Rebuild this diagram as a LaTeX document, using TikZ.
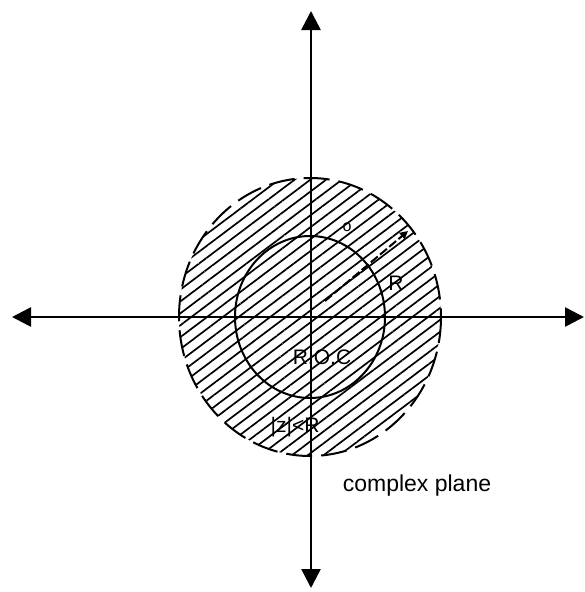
\documentclass[tikz,border=0pt]{standalone}
\usepackage{fontspec}
\setmainfont{Liberation Sans}
\usetikzlibrary{arrows.meta,patterns.meta}
\begin{document}
\begin{tikzpicture}[x=1pt,y=-1pt,
  axis/.style={line width=2.6pt,-{Triangle[length=19pt,width=19pt]}},
  hatch/.style={pattern={Lines[angle=37,distance=9.5pt,line width=1.7pt]}},
  lbl/.style={inner sep=0pt,font=\fontsize{21}{21}\selectfont}]
\useasboundingbox (0,0) rectangle (585,592);
\coordinate (O) at (310,317);
% hatched region
\fill[hatch] (O) ellipse[x radius=131,y radius=139];
\draw[line width=2pt,dash pattern=on 26pt off 9pt] (O) ellipse[x radius=131,y radius=139];
\draw[line width=2pt] (O) ellipse[x radius=75,y radius=81];
% axes
\coordinate (C) at (311,317);
\coordinate (L) at (12,317);
\coordinate (Rt) at (584,317);
\coordinate (T) at (311,11);
\coordinate (B) at (311,588);
\draw[axis] (C) -- (L);
\draw[axis] (C) -- (Rt);
\draw[axis] (C) -- (T);
\draw[axis] (C) -- (B);
% radius
\coordinate (r0) at (325,301);
\coordinate (r1) at (408,231);
\draw[line width=2pt,dash pattern=on 9pt off 3pt,-{Triangle[length=8pt,width=8pt]}] (r0) -- (r1);
\node[inner sep=0pt,font=\fontsize{16}{16}\selectfont] (o) at (347,227) {o};
\node[lbl] (Rl) at (396,283) {R};
\node[lbl] (roc) at (322,357) {R.O.C};
\node[lbl] (ineq) at (295,427) {|z|<R};
\node[inner sep=0pt,font=\fontsize{23}{23}\selectfont] (cp) at (417,486) {complex plane};
\end{tikzpicture}
\end{document}
